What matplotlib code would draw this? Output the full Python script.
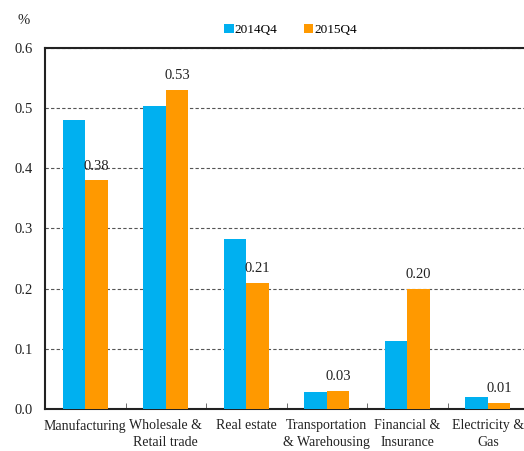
import matplotlib
matplotlib.use("Agg")
import matplotlib.pyplot as plt
import numpy as np

categories = ["Manufacturing", "Wholesale &\nRetail trade", "Real estate",
              "Transportation\n& Warehousing", "Financial &\nInsurance", "Electricity &\nGas"]
s2014 = [0.48, 0.503, 0.283, 0.028, 0.113, 0.02]
s2015 = [0.38, 0.53, 0.21, 0.03, 0.20, 0.01]
labels2015 = ["0.38", "0.53", "0.21", "0.03", "0.20", "0.01"]
series_names = ["2014Q4", "2015Q4"]
yticks = [0.0, 0.1, 0.2, 0.3, 0.4, 0.5, 0.6]

plt.rcParams['font.family'] = ['Liberation Serif', 'DejaVu Serif']
fig = plt.figure(figsize=(5.24, 4.51), dpi=100)
ax = fig.add_axes([45/524, 1 - 409/451, (524 - 45)/524, (409 - 48)/451])

x = np.arange(len(categories))
w = 0.28
blue = "#00B0F0"
orange = "#FF9900"
ax.bar(x - w/2, s2014, w, color=blue, label=series_names[0], zorder=3)
ax.bar(x + w/2, s2015, w, color=orange, label=series_names[1], zorder=3)
for xi, v, t in zip(x, s2015, labels2015):
    ax.text(xi + w/2, v + 0.013, t, ha="center", va="bottom", fontsize=10.5, color="#222222")

ax.set_xlim(-0.5, 5.45)
ax.set_ylim(0, 0.6)
ax.set_yticks(yticks)
ax.set_yticklabels([f"{t:.1f}" for t in yticks], fontsize=10.5, color="#222222")
ax.yaxis.grid(True, linestyle=(0, (3, 2)), color="#555555", linewidth=0.8, zorder=0)
ax.set_xticks(x)
ax.set_xticklabels(categories, fontsize=10, linespacing=1.45, color="#222222")
ax.set_xticks(np.arange(0.5, 5.5, 1), minor=True)
ax.tick_params(axis="x", which="major", length=0, pad=7)
ax.tick_params(axis="x", which="minor", length=4, direction="in", color="#555555")
ax.tick_params(axis="y", length=0, pad=9)
for s in ["left", "bottom", "top"]:
    ax.spines[s].set_linewidth(1.5)
    ax.spines[s].set_color("#222222")
ax.spines["right"].set_visible(False)

ax.legend(loc="upper center", bbox_to_anchor=(0.513, 1.1), ncol=2, frameon=False,
          fontsize=9.5, handlelength=0.7, handleheight=0.7, handletextpad=0.1, columnspacing=2.0)
fig.text(18/524, 1 - 20/451, "%", fontsize=10.5, va="center", color="#222222")

fig.savefig("out.png", dpi=100)
